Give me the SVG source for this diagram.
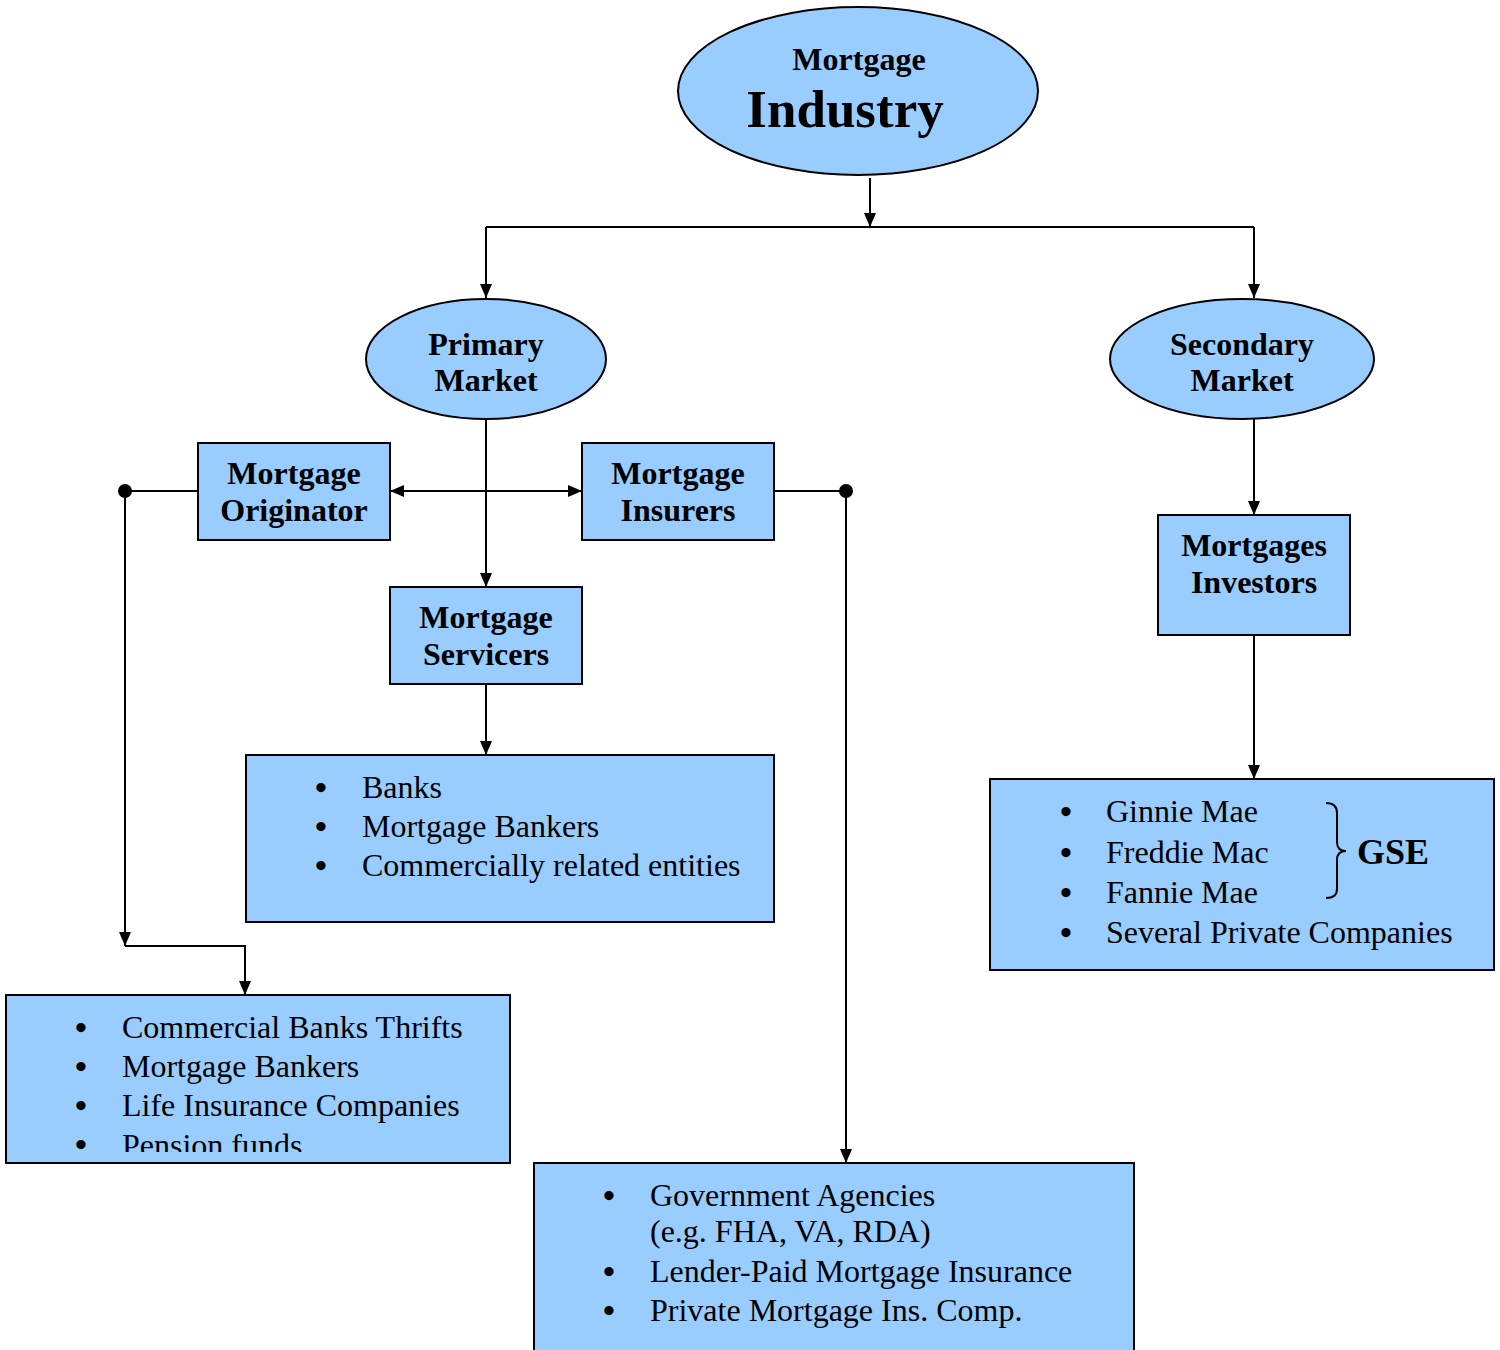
<svg xmlns="http://www.w3.org/2000/svg" width="1500" height="1350" viewBox="0 0 1500 1350">
<style>
.n{fill:#99CCFF;stroke:#000;stroke-width:2}
.b{font-family:"Liberation Serif","Times New Roman",serif;font-weight:bold;font-size:32px;text-anchor:middle;fill:#000}
.t{font-family:"Liberation Serif","Times New Roman",serif;font-size:32px;fill:#000}
.d{font-family:"Liberation Serif","Times New Roman",serif;font-size:34px;fill:#000;text-anchor:middle;font-weight:bold}
.c{fill:none;stroke:#000;stroke-width:2}
</style>
<defs>
<marker id="ah" markerUnits="userSpaceOnUse" markerWidth="14" markerHeight="14" refX="14" refY="7" orient="auto-start-reverse" viewBox="0 0 14 14">
<path d="M0,1 L14,7 L0,13 Z" fill="#000"/>
</marker>
<clipPath id="clipC"><rect x="7" y="996" width="502" height="156"/></clipPath>
</defs>
<rect width="1500" height="1350" fill="#fff"/>
<g id="connectors">
<path class="c" d="M870,178 V227" marker-end="url(#ah)"/>
<path class="c" d="M486,227 H1254"/>
<path class="c" d="M486,227 V298" marker-end="url(#ah)"/>
<path class="c" d="M1254,227 V298" marker-end="url(#ah)"/>
<path class="c" d="M486,419 V587" marker-end="url(#ah)"/>
<path class="c" d="M390,491 H582" marker-start="url(#ah)" marker-end="url(#ah)"/>
<path class="c" d="M198,491 H125 V946" marker-end="url(#ah)"/>
<path class="c" d="M125,946 H245 V995" marker-end="url(#ah)"/>
<circle cx="125" cy="491" r="7" fill="#000"/>
<path class="c" d="M774,491 H846 V1163" marker-end="url(#ah)"/>
<circle cx="846" cy="491" r="7" fill="#000"/>
<path class="c" d="M486,684 V755" marker-end="url(#ah)"/>
<path class="c" d="M1254,419 V515" marker-end="url(#ah)"/>
<path class="c" d="M1254,635 V779" marker-end="url(#ah)"/>
</g>
<g id="mortgage-industry">
<ellipse class="n" cx="858" cy="91" rx="180" ry="84"/>
<text class="b" x="859" y="70">Mortgage</text>
<text class="b" x="845" y="127" style="font-size:53px">Industry</text>
</g>
<g id="primary-market">
<ellipse class="n" cx="486" cy="359" rx="120" ry="60"/>
<text class="b" x="486" y="355">Primary</text>
<text class="b" x="486" y="391">Market</text>
</g>
<g id="secondary-market">
<ellipse class="n" cx="1242" cy="359" rx="132" ry="60"/>
<text class="b" x="1242" y="355">Secondary</text>
<text class="b" x="1242" y="391">Market</text>
</g>
<g id="mortgage-originator">
<rect class="n" x="198" y="443" width="192" height="97"/>
<text class="b" x="294" y="484">Mortgage</text>
<text class="b" x="294" y="521">Originator</text>
</g>
<g id="mortgage-insurers">
<rect class="n" x="582" y="443" width="192" height="97"/>
<text class="b" x="678" y="484">Mortgage</text>
<text class="b" x="678" y="521">Insurers</text>
</g>
<g id="mortgage-servicers">
<rect class="n" x="390" y="587" width="192" height="97"/>
<text class="b" x="486" y="628">Mortgage</text>
<text class="b" x="486" y="665">Servicers</text>
</g>
<g id="mortgages-investors">
<rect class="n" x="1158" y="515" width="192" height="120"/>
<text class="b" x="1254" y="556">Mortgages</text>
<text class="b" x="1254" y="593">Investors</text>
</g>
<g id="servicers-list">
<rect class="n" x="246" y="755" width="528" height="167"/>
<text class="d" x="321" y="799">•</text><text class="t" x="362" y="798">Banks</text>
<text class="d" x="321" y="838">•</text><text class="t" x="362" y="837">Mortgage Bankers</text>
<text class="d" x="321" y="877">•</text><text class="t" x="362" y="876">Commercially related entities</text>
</g>
<g id="originator-list">
<rect class="n" x="6" y="995" width="504" height="168"/>
<g clip-path="url(#clipC)">
<text class="d" x="81" y="1039">•</text><text class="t" x="122" y="1038">Commercial Banks Thrifts</text>
<text class="d" x="81" y="1078">•</text><text class="t" x="122" y="1077">Mortgage Bankers</text>
<text class="d" x="81" y="1117">•</text><text class="t" x="122" y="1116">Life Insurance Companies</text>
<text class="d" x="81" y="1156">•</text><text class="t" x="122" y="1156">Pension funds</text>
</g>
</g>
<g id="insurers-list">
<rect class="n" x="534" y="1163" width="600" height="200"/>
<text class="d" x="609" y="1207">•</text><text class="t" x="650" y="1206">Government Agencies</text>
<text class="t" x="650" y="1242">(e.g. FHA, VA, RDA)</text>
<text class="d" x="609" y="1283">•</text><text class="t" x="650" y="1282">Lender-Paid Mortgage Insurance</text>
<text class="d" x="609" y="1322">•</text><text class="t" x="650" y="1321">Private Mortgage Ins. Comp.</text>
</g>
<g id="investors-list">
<rect class="n" x="990" y="779" width="504" height="191"/>
<text class="d" x="1066" y="823">•</text><text class="t" x="1106" y="822">Ginnie Mae</text>
<text class="d" x="1066" y="864">•</text><text class="t" x="1106" y="863">Freddie Mac</text>
<text class="d" x="1066" y="904">•</text><text class="t" x="1106" y="903">Fannie Mae</text>
<text class="d" x="1066" y="944">•</text><text class="t" x="1106" y="943">Several Private Companies</text>
<path class="c" d="M1326,803 Q1337,803 1337,813 V842 Q1337,851 1346,851 Q1337,851 1337,860 V889 Q1337,898 1326,898"/>
<text class="b" x="1393" y="864" style="font-size:36px">GSE</text>
</g>
</svg>
